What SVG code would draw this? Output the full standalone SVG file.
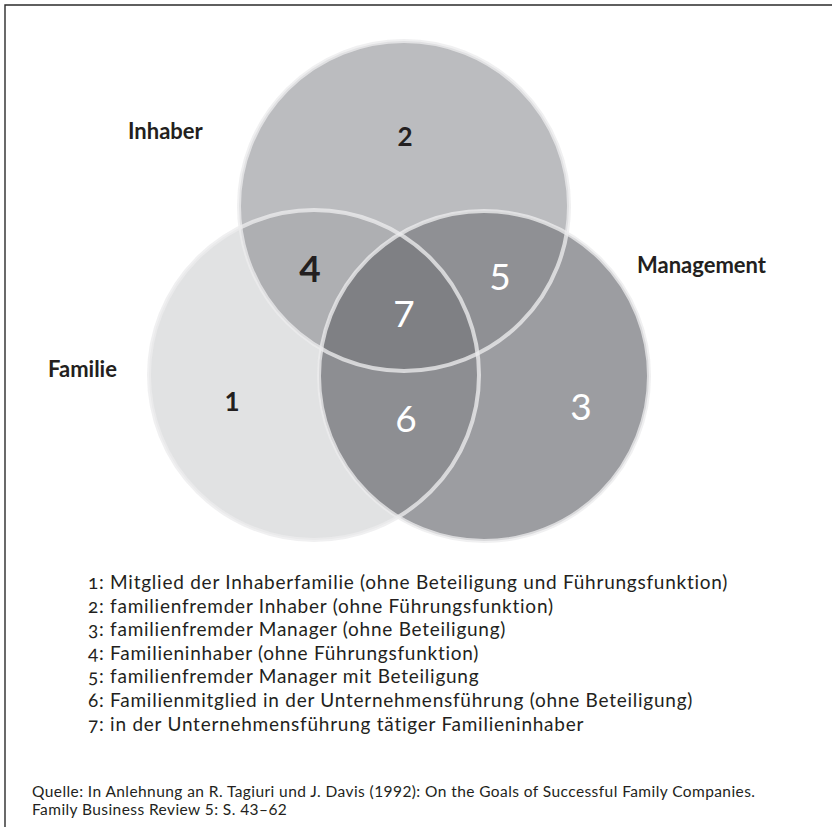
<svg xmlns="http://www.w3.org/2000/svg" width="832" height="827" viewBox="0 0 832 827">
  <style>
    .frame { fill: none; stroke: #2b2b2b; stroke-width: 1.4; }
    .ring { fill: none; stroke: #ececed; stroke-opacity: 0.78; stroke-width: 4; }
    .label { font-family: Lato, "Open Sans", sans-serif; font-weight: 700; font-size: 22px; fill: #231f20; }
    .num-dark { font-family: Lato, "Open Sans", sans-serif; font-weight: 700; fill: #231f20; text-anchor: middle; }
    .num-light { font-family: Lato, "Open Sans", sans-serif; font-weight: 400; font-size: 37px; fill: #ffffff; text-anchor: middle; }
    .legend { font-family: Lato, "Open Sans", sans-serif; font-size: 19px; letter-spacing: 0.75px; fill: #231f20; font-variant-numeric: oldstyle-nums; }
    .source { font-family: Lato, "Open Sans", sans-serif; font-size: 15.5px; letter-spacing: 0.42px; fill: #231f20; }
  </style>
  <defs>
    <circle id="c-top" cx="404" cy="206" r="165"/>
    <circle id="c-fam" cx="314" cy="375" r="165"/>
    <circle id="c-mgt" cx="484" cy="376" r="165"/>
    <clipPath id="clip-top"><use href="#c-top"/></clipPath>
    <clipPath id="clip-mgt"><use href="#c-mgt"/></clipPath>
  </defs>

  <!-- frame -->
  <path class="frame" d="M5,827 V5 H832"/>

  <!-- set: Familie -->
  <g id="set-familie">
    <use href="#c-fam" fill="#e1e2e3"/>
    <text class="label" x="48" y="377">Familie</text>
  </g>

  <!-- set: Inhaber -->
  <g id="set-inhaber">
    <use href="#c-top" fill="#bbbcbf"/>
    <text class="label" x="128" y="139">Inhaber</text>
  </g>

  <!-- set: Management -->
  <g id="set-management">
    <use href="#c-mgt" fill="#9c9da1"/>
    <text class="label" x="637" y="273">Management</text>
  </g>

  <!-- overlaps -->
  <g id="overlap-4"><use href="#c-fam" fill="#aeafb2" clip-path="url(#clip-top)"/></g>
  <g id="overlap-5"><use href="#c-mgt" fill="#8f9094" clip-path="url(#clip-top)"/></g>
  <g id="overlap-6"><use href="#c-fam" fill="#8d8e92" clip-path="url(#clip-mgt)"/></g>
  <g id="overlap-7" clip-path="url(#clip-top)"><use href="#c-fam" fill="#7f8084" clip-path="url(#clip-mgt)"/></g>

  <!-- outlines -->
  <g id="outlines">
    <use href="#c-top" class="ring"/>
    <use href="#c-fam" class="ring"/>
    <use href="#c-mgt" class="ring"/>
  </g>

  <!-- region numbers -->
  <g id="numbers">
    <text class="num-dark" x="232" y="411" font-size="26">1</text>
    <text class="num-dark" x="405" y="146" font-size="26">2</text>
    <text class="num-light" x="581" y="420">3</text>
    <text class="num-dark" x="310" y="282" font-size="37">4</text>
    <text class="num-light" x="500" y="290">5</text>
    <text class="num-light" x="406" y="432">6</text>
    <text class="num-light" x="404" y="327">7</text>
  </g>

  <!-- legend -->
  <g id="legend">
    <text class="legend" x="88" y="589">1: Mitglied der Inhaberfamilie (ohne Beteiligung und Führungsfunktion)</text>
    <text class="legend" x="88" y="612.6">2: familienfremder Inhaber (ohne Führungsfunktion)</text>
    <text class="legend" x="88" y="636.2">3: familienfremder Manager (ohne Beteiligung)</text>
    <text class="legend" x="88" y="659.8">4: Familieninhaber (ohne Führungsfunktion)</text>
    <text class="legend" x="88" y="683.4">5: familienfremder Manager mit Beteiligung</text>
    <text class="legend" x="88" y="707">6: Familienmitglied in der Unternehmensführung (ohne Beteiligung)</text>
    <text class="legend" x="88" y="730.6">7: in der Unternehmensführung tätiger Familieninhaber</text>
  </g>

  <!-- source -->
  <g id="source">
    <text class="source" x="32" y="797">Quelle: In Anlehnung an R. Tagiuri und J. Davis (1992): On the Goals of Successful Family Companies.</text>
    <text class="source" x="32" y="815">Family Business Review 5: S. 43–62</text>
  </g>
</svg>
